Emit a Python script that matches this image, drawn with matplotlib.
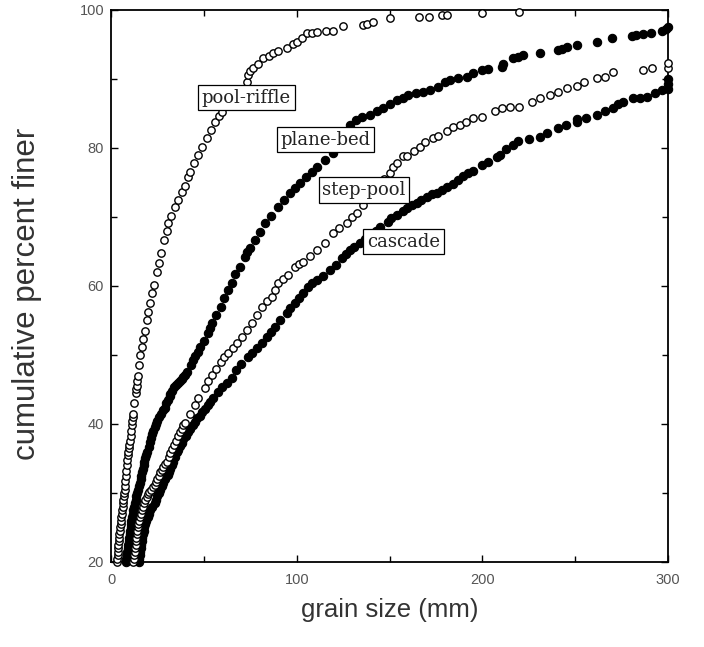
import matplotlib
matplotlib.use("Agg")
import matplotlib.pyplot as plt
from matplotlib.ticker import MultipleLocator

# ---------------- data ----------------
pool_riffle_x = [3, 3.2, 3.5, 3.6, 3.8, 4.0, 4.2, 4.4, 4.5, 4.8, 5, 5.2, 5.3, 5.6, 5.8,
                 6.0, 6.2, 6.4, 6.6, 6.8, 7, 7.3, 7.5, 7.7, 7.9, 8.2, 8.4, 8.7, 9, 9.3,
                 9.6, 9.9, 10.2, 10.5, 10.8, 11.1, 11.4, 11.7, 12, 12.5, 13.2, 13.5, 13.8,
                 14.2, 14.5, 15.2, 15.8, 16.6, 17.4, 18.3, 19.2, 20, 21, 22, 23, 24.6, 25.7,
                 27, 28.7, 30, 30.8, 32.5, 34.5, 36, 38, 40, 41.5, 42.5, 44.5, 47, 49, 51.7,
                 54, 56, 58, 59.8, 63, 67, 70, 73, 74, 75, 76.5, 79, 82, 85, 87.5, 90,
                 94.6, 98, 100, 103, 105.5, 108, 111, 116, 119.6, 125, 135.7, 138, 141,
                 150, 166, 171, 178, 181, 200, 220]
pool_riffle_y = [20, 20.5, 21, 21.5, 22, 22.5, 23, 23.5, 24, 24.5, 25, 25.5, 26, 26.5, 27,
                 27.5, 28, 28.5, 29, 29.5, 30, 30.5, 31, 31.8, 32.5, 33.2, 34, 34.8, 35.5,
                 36, 36.5, 37, 37.5, 38.2, 39, 39.8, 40.5, 41, 41.5, 43, 44.5, 45, 45.5,
                 46.3, 47, 48.5, 50, 51.2, 52.3, 53.5, 55, 56.2, 57.5, 59, 60.2, 62, 63.3,
                 64.8, 66.7, 68, 69.1, 70.2, 71.4, 72.5, 73.6, 74.5, 75.8, 76.5, 77.8, 79,
                 80.2, 81.4, 82.6, 83.8, 84.6, 85.2, 86.2, 87.3, 88.3, 89.6, 90.6, 91.2,
                 91.6, 92.2, 93, 93.4, 93.8, 94.1, 94.5, 95, 95.4, 96, 96.7, 96.7, 96.8,
                 96.9, 97, 97.7, 97.8, 98, 98.3, 98.8, 99, 99, 99.3, 99.3, 99.5, 99.7]

plane_bed_x = [8, 8.2, 8.5, 8.8, 9, 9.2, 9.5, 9.8, 10, 10.2, 10.5, 10.8, 11, 11.4, 11.8,
               12.1, 12.5, 12.9, 13.3, 13.6, 14, 14.5, 15, 15.5, 16, 16.3, 16.7, 17.1,
               17.5, 18, 18.5, 19, 19.5, 20.2, 21, 21.5, 22, 22.8, 23.5, 24.2, 25, 26, 27,
               28.2, 29, 29.8, 30.5, 31.5, 32, 33, 34, 35, 36, 37, 38, 39, 40, 41, 43,
               44.2, 45.5, 46.8, 48, 50, 52, 53.2, 54.4, 56.5, 59, 61, 63, 65, 67, 69.5,
               72, 73.5, 75, 77.5, 80, 83, 86, 90, 93, 96.4, 99, 101.8, 105, 108, 111,
               115, 119.6, 123, 126, 128.7, 132, 135, 139.5, 143, 146.5, 150, 154, 157,
               160, 164, 168, 172, 176, 180, 182.5, 187, 191.5, 195, 200, 203, 210.5,
               211, 216.5, 219, 222, 231, 240.7, 243, 245.5, 251, 261.7, 270, 280.5,
               283, 286.5, 291, 296.7, 299, 300]
plane_bed_y = [20, 20.5, 21, 21.5, 22, 22.5, 23, 23.5, 24, 24.5, 25, 25.5, 26, 26.5, 27,
               27.5, 28, 28.5, 29, 29.5, 30, 30.5, 31, 31.5, 32, 32.5, 33, 33.5,
               34, 34.5, 35, 35.5, 36, 36.7, 37.4, 38, 38.5, 39, 39.5, 40, 40.5, 41, 41.5,
               42, 42.3, 43, 43.5, 44, 44.3, 44.8, 45.3, 45.6, 46, 46.3, 46.5, 46.8, 47.1,
               47.5, 48.5, 49.2, 49.8, 50.5, 51.2, 52, 53.2, 53.9, 54.6, 55.8, 57, 58.2,
               59.4, 60.5, 61.7, 62.8, 64.2, 64.9, 65.5, 66.7, 67.8, 69.1, 70.2, 71.4,
               72.4, 73.5, 74.2, 74.9, 75.8, 76.5, 77.2, 78.2, 79.3, 80.3, 81.5, 83.3,
               84, 84.5, 84.8, 85.3, 85.8, 86.3, 87, 87.3, 87.7, 87.9, 88.1, 88.4, 88.8,
               89.5, 89.9, 90.1, 90.3, 90.8, 91.3, 91.5, 91.7, 92.2, 93, 93.2, 93.5,
               93.8, 94.2, 94.4, 94.6, 94.9, 95.4, 95.9, 96.2, 96.3, 96.5, 96.7, 97,
               97.2, 97.5]

step_pool_x = [12, 12.2, 12.5, 12.7, 13, 13.2, 13.5, 13.7, 14, 14.2, 14.5, 14.7, 15,
               15.5, 16, 16.5, 17, 17.7, 18.5, 19.2, 20, 20.7, 21.5, 22.5, 23.7, 24.4, 25,
               25.7, 26.5, 27.2, 28, 29, 30, 31, 32, 33, 34, 35, 36, 37, 38, 39, 40,
               42.5, 45, 47, 50.6, 52.5, 54.4, 56.5, 59, 61, 63, 65.5, 68, 70.5, 73, 76,
               78.5, 81.3, 84, 86.7, 88.5, 90, 92.5, 95.3, 99, 101, 103.4, 107, 111,
               115, 119.5, 123, 127, 130, 132.5, 135.7, 139, 143, 147, 150, 152, 154,
               157, 159.4, 163, 166.4, 169, 173.4, 176, 181, 184, 188, 191, 195, 200,
               207, 210.5, 215, 220, 226.7, 231, 236.4, 240.7, 245.5, 251, 255, 261.7,
               266, 270.3, 286.5, 291.3, 300, 300]
step_pool_y = [20, 20.5, 21, 21.5, 22, 22.5, 23, 23.5, 24, 24.5, 25, 25.5, 26,
               26.5, 27, 27.5, 28, 28.5, 29, 29.4, 29.8, 30.2, 30.5, 30.8, 31.2, 31.6, 32,
               32.5, 33, 33.4, 33.8, 34.2, 34.5, 35.2, 35.8, 36.4, 37, 37.6, 38.2, 38.8,
               39.3, 39.8, 40.2, 41.5, 42.8, 43.8, 45.2, 46.2, 47.1, 48, 49, 49.7, 50.3,
               51, 51.8, 52.6, 53.6, 54.6, 55.8, 57, 57.8, 58.4, 59.4, 60.4, 61, 61.6,
               62.8, 63.2, 63.5, 64.3, 65.2, 66.3, 67.7, 68.4, 69.1, 70, 70.6, 71.8,
               72.8, 74, 75.5, 76.4, 77.3, 77.8, 78.8, 78.9, 79.6, 80.1, 80.8, 81.4,
               81.8, 82.5, 83.1, 83.3, 83.8, 84.3, 84.5, 85.3, 85.8, 85.9, 85.9, 86.7,
               87.2, 87.7, 88.1, 88.7, 89, 89.6, 90.1, 90.3, 91, 91.3, 91.6, 91.6, 92.3]

cascade_x = [15, 15.2, 15.5, 15.7, 16, 16.2, 16.5, 16.7, 17, 17.5, 18, 18.5, 19, 19.7,
             20.5, 21.2, 22, 23.7, 24.3, 25, 25.7, 26.5, 27.2, 28, 29.3, 30.7, 31.3, 32,
             32.7, 33.5, 34.5, 35.5, 36.2, 37, 38, 39, 40.2, 41.5, 42.7, 44, 45.2, 46.5,
             47.7, 49, 50.5, 52, 53.5, 55, 57.6, 60, 62.5, 65, 67.5, 70, 73.8, 76, 78.5,
             81.3, 84, 86, 88.3, 91, 94.8, 96.4, 99, 101, 103.4, 106, 108.5, 111, 114,
             118, 121, 124.4, 126.5, 128.7, 131, 134, 137, 140, 142.5, 145, 149, 151,
             154, 157, 159.4, 162, 164.8, 167, 170, 173, 175.5, 178, 181, 184, 187,
             189.5, 192, 195, 199.8, 203, 207.8, 209.5, 213, 216.5, 219, 225, 231, 235,
             240.7, 245, 251, 251, 256, 261.7, 266, 270.3, 273, 275.7, 281, 285, 288.6,
             293, 297, 300, 300, 300]
cascade_y = [20, 20.5, 21, 21.5, 22, 22.5, 23, 23.5, 24, 24.5, 25, 25.5, 26, 26.5,
             27, 27.5, 28, 28.5, 29, 29.5, 30, 30.5, 31, 31.5, 32, 32.6, 33, 33.5,
             34, 34.5, 35.2, 35.9, 36.3, 36.8, 37.3, 37.8, 38.3, 38.8, 39.3, 39.8, 40.3,
             40.8, 41.2, 41.7, 42.2, 42.7, 43.2, 43.8, 44.6, 45.3, 46, 46.7, 47.8, 48.7,
             49.7, 50.3, 51, 51.7, 52.6, 53.3, 54, 55, 56.1, 56.8, 57.5, 58.3, 59, 59.8,
             60.4, 60.9, 61.4, 62.3, 63.1, 64, 64.6, 65.2, 65.6, 66.2, 66.8, 67.5, 68,
             68.6, 69.3, 69.8, 70.3, 70.8, 71.3, 71.7, 72, 72.5, 72.9, 73.3, 73.5, 73.9,
             74.4, 74.8, 75.4, 76, 76.3, 76.7, 77.5, 77.9, 78.7, 79, 79.8, 80.4, 81,
             81.3, 81.6, 82.1, 82.9, 83.3, 83.7, 84.2, 84.4, 84.8, 85.3, 85.8, 86.3,
             86.7, 87.2, 87.3, 87.4, 88, 88.4, 88.6, 89.3, 90]

labels = ["pool-riffle", "plane-bed", "step-pool", "cascade"]
label_pos = [(72.9, 87.3), (115.5, 81.2), (136.2, 73.9), (157.5, 66.4)]

# ---------------- figure ----------------
fig = plt.figure(figsize=(7.04, 6.47), dpi=100)
ax = fig.add_axes([0.1577, 0.1314, 0.7912, 0.8532])

open_style = dict(marker="o", ms=5.3, mfc="white", mec="black", mew=1.0,
                  ls="none", clip_on=False, zorder=3)
filled_style = dict(marker="o", ms=6.0, mfc="black", mec="black", mew=0.8,
                    ls="none", clip_on=False, zorder=3)

ax.plot(plane_bed_x, plane_bed_y, **filled_style)
ax.plot(cascade_x, cascade_y, **filled_style)
ax.plot(pool_riffle_x, pool_riffle_y, **open_style)
ax.plot(step_pool_x, step_pool_y, **open_style)

for txt, (lx, ly) in zip(labels, label_pos):
    ax.text(lx, ly, txt, ha="center", va="center", fontfamily="DejaVu Serif",
            fontsize=13, color="#222222", zorder=6,
            bbox=dict(boxstyle="square,pad=0.2", fc="white", ec="black", lw=0.9))

ax.set_xlim(0, 300)
ax.set_ylim(20, 100)
ax.xaxis.set_major_locator(MultipleLocator(100))
ax.xaxis.set_minor_locator(MultipleLocator(50))
ax.yaxis.set_major_locator(MultipleLocator(20))
ax.yaxis.set_minor_locator(MultipleLocator(10))
ax.tick_params(which="both", direction="in", top=True, right=True, width=1.0,
               color="black")
ax.tick_params(which="major", length=5)
ax.tick_params(which="minor", length=4)
ax.tick_params(axis="x", which="major", pad=8)
ax.tick_params(axis="y", which="major", pad=5)
for lab in ax.get_xticklabels() + ax.get_yticklabels():
    lab.set_fontfamily("Liberation Sans")
    lab.set_fontsize(10.5)
    lab.set_color("#555555")
for sp in ax.spines.values():
    sp.set_linewidth(1.3)

fig.text(389.5 / 704, 1 - 610 / 647, "grain size (mm)", ha="center", va="center",
         fontfamily="Liberation Sans", fontsize=18.5, color="#333333")
fig.text(27 / 704, 1 - 294 / 647, "cumulative percent finer", ha="center", va="center",
         rotation=90, fontfamily="Liberation Sans", fontsize=22.5, color="#333333")

fig.savefig("out.png", dpi=100, facecolor="white")
